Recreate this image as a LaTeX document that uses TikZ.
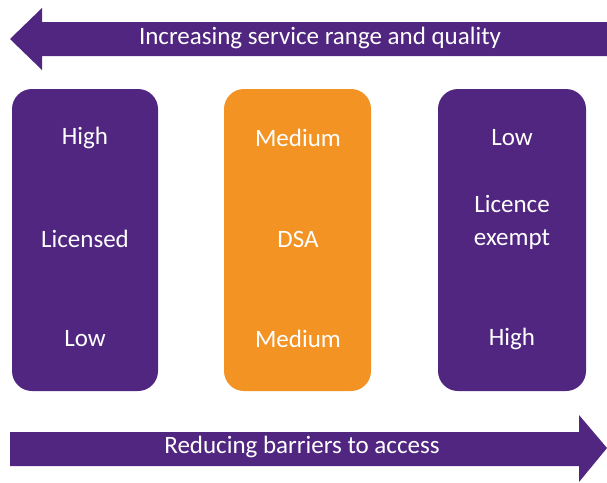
\documentclass[tikz,border=0pt]{standalone}
\usepackage{fontspec}
\setmainfont{Carlito}
\definecolor{ofpurple}{RGB}{81,38,128}
\definecolor{oforange}{RGB}{243,147,36}
\begin{document}
\begin{tikzpicture}[x=1pt,y=-1pt,
  box/.style={rounded corners=20pt},
  lbl/.style={text=white,font=\fontsize{25}{33}\selectfont,align=center,inner sep=0pt}]
\useasboundingbox (0,0) rectangle (607,482);
% top arrow (pointing left)
\fill[ofpurple] (10,39) -- (42,8) -- (42,22) -- (607,22) -- (607,56) -- (42,56) -- (42,70) -- cycle;
\node[lbl] (toplabel) at (320,38) {Increasing service range and quality};
% bottom arrow (pointing right)
\fill[ofpurple] (10,432) -- (579,432) -- (579,415) -- (607,448) -- (579,482) -- (579,466) -- (10,466) -- cycle;
\node[lbl] (botlabel) at (302,447) {Reducing barriers to access};
% boxes
\fill[ofpurple,box] (12,89) rectangle (158,391);
\fill[oforange,box] (224,89) rectangle (371,391);
\fill[ofpurple,box] (438,89) rectangle (586,391);
% left box
\node[lbl] (l1) at (85,138) {High};
\node[lbl] (l2) at (85,239) {Licensed};
\node[lbl] (l3) at (85,339) {Low};
% middle
\node[lbl] (m1) at (298,138) {Medium};
\node[lbl] (m2) at (298,239) {DSA};
\node[lbl] (m3) at (298,339) {Medium};
% right
\node[lbl] (r1) at (512,138) {Low};
\node[lbl] (r2) at (512,222) {Licence\\exempt};
\node[lbl] (r3) at (512,339) {High};
\end{tikzpicture}
\end{document}
